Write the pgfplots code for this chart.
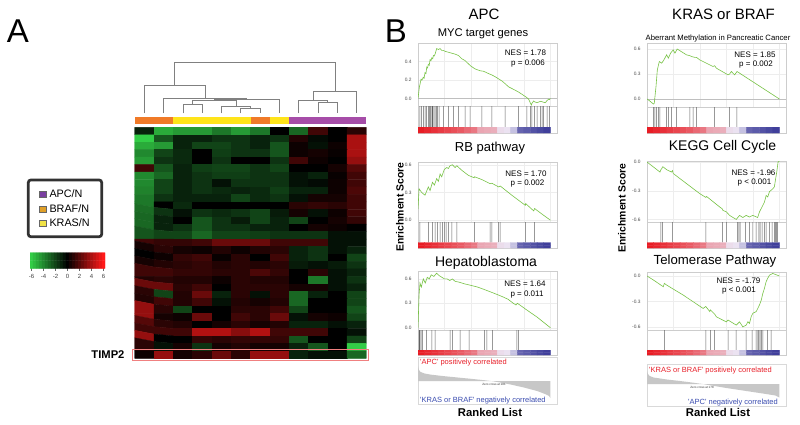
\documentclass[border=0pt]{standalone}
\usepackage{fontspec}
\setmainfont{Liberation Sans}
\usepackage{pgfplots}
\usepackage{pgfplotstable}
\pgfplotsset{compat=1.18}

\definecolor{cOr}{RGB}{240,122,40}
\definecolor{cYe}{RGB}{255,228,26}
\definecolor{cPu}{RGB}{166,77,168}
\definecolor{lPu}{RGB}{122,63,160}
\definecolor{lOr}{RGB}{224,160,40}
\definecolor{lYe}{RGB}{240,226,70}
\definecolor{esG}{RGB}{120,195,70}
\definecolor{posR}{RGB}{232,32,42}
\definecolor{negB}{RGB}{58,76,176}
\definecolor{frm}{RGB}{205,205,205}
\definecolor{boxC}{RGB}{50,50,50}
\definecolor{dendC}{RGB}{128,128,128}
\definecolor{timpR}{RGB}{240,128,128}

% heatmap values (31 rows x 12 columns, row by row)
\pgfplotstableread[row sep=\\]{c\\
-1\\ -5\\ -4.5\\ -4.5\\ -3.5\\ -4.5\\ -3.5\\ 0\\ -3\\ 1.5\\ 0\\ 1\\
-6\\ -2.5\\ -1\\ -1\\ -1.5\\ -1.5\\ -1\\ -1.5\\ 0.8\\ -0.3\\ 0\\ 4\\
-5\\ -4.5\\ -1\\ -2\\ -2\\ -1.5\\ -1\\ -2.5\\ 0.3\\ -0.5\\ 0.3\\ 4\\
-4\\ -2\\ -1.2\\ 0\\ -1.8\\ -1.5\\ -1.5\\ -2.5\\ 0.3\\ 0.5\\ 0.2\\ 4\\
-4.5\\ -1.5\\ -1.2\\ 0\\ -1.5\\ 0\\ 0\\ -1.5\\ 1.5\\ 0.3\\ 0\\ 3.5\\
1.5\\ -2.5\\ -1\\ -1.8\\ -2\\ -2\\ -1.5\\ -2\\ 0\\ 0\\ 0.5\\ 2\\
-4\\ -3\\ -1\\ -1.5\\ -1.8\\ -1.8\\ -1.5\\ -1.5\\ -0.5\\ -1\\ 0.2\\ 1.5\\
-4\\ -2\\ -1\\ -1.5\\ -0.5\\ -1.5\\ -1.5\\ -1.5\\ -0.5\\ -0.3\\ 0.3\\ 1.5\\
-3.8\\ -2\\ -1\\ -1.5\\ -1.2\\ -1\\ -1.2\\ -1.8\\ -1\\ -1\\ 0.3\\ 1.8\\
-3.5\\ -1.5\\ -1\\ -1\\ -1\\ -2\\ -1.2\\ -1.5\\ -0.5\\ 0.5\\ 0.5\\ 1.5\\
-3.5\\ 0\\ -1.2\\ 0\\ 0\\ 0\\ 0\\ 0\\ 1\\ 1.2\\ 1\\ 1.5\\
-3.2\\ -1.5\\ -0.5\\ -1.5\\ -1.2\\ -1.5\\ -2\\ -0.8\\ 0.5\\ -0.5\\ 0.3\\ 1.5\\
-3\\ -1\\ 0\\ -2.5\\ -1.5\\ -0.8\\ -2\\ -1\\ -2\\ 0\\ 0.5\\ 1.2\\
-3\\ -1\\ -1.5\\ -2.5\\ -1.5\\ -1.5\\ -1\\ -1\\ 0\\ 0.5\\ 0.3\\ 0\\
-2.5\\ -2\\ -2\\ -3\\ -2\\ -2\\ -1.8\\ -1.5\\ -1.5\\ -1.5\\ -0.5\\ -0.5\\
1.5\\ 1.2\\ 1.2\\ 1.5\\ 2.5\\ 2.5\\ 2.5\\ 1.5\\ 1.5\\ 1.5\\ -0.5\\ -0.5\\
0.5\\ 1\\ 0.5\\ 0.3\\ 0.8\\ 0.3\\ 0.8\\ 1\\ -1\\ -1.5\\ -0.5\\ -1\\
0\\ 0.3\\ 1.2\\ 1.5\\ 0.2\\ 1\\ 0\\ 1.5\\ -1\\ -1.5\\ 0\\ -2\\
0.5\\ 0.8\\ 1\\ 1.2\\ 0.8\\ 1\\ 0.8\\ 1\\ -0.8\\ -0.5\\ -0.8\\ -1.5\\
1.5\\ 1.5\\ 1.2\\ 1.2\\ 1\\ 1\\ 1.8\\ 1.2\\ 0\\ 1\\ -0.5\\ -1\\
0.8\\ 1\\ 0.8\\ 0.8\\ 0.3\\ 1\\ 0.8\\ 0.8\\ 0\\ -3.5\\ -0.5\\ -1.5\\
2.5\\ 2.5\\ 1\\ 1.5\\ 0\\ 1\\ 1\\ 1\\ 0.5\\ 0.5\\ -0.5\\ -1\\
1\\ -2\\ 0.8\\ 2.5\\ -1\\ 1\\ -0.5\\ 1\\ -3\\ -1\\ 0\\ -2\\
0.8\\ 1.5\\ 0.8\\ 1.5\\ -0.5\\ 0.8\\ 0.5\\ 0.8\\ -3\\ 0\\ 0\\ -2\\
3.5\\ 1\\ -2\\ 0\\ 0\\ 1\\ 1\\ 1.5\\ -2\\ 0\\ 0\\ -2.5\\
3.5\\ 0.5\\ 0.3\\ 2.5\\ 0\\ 1.5\\ 1\\ 2.5\\ -0.5\\ 0.5\\ 0.3\\ -2\\
2\\ 1\\ 0.8\\ 0\\ 0.5\\ 1\\ 0.5\\ 0.8\\ -1\\ -1\\ -0.5\\ -1\\
1.5\\ 1.5\\ 1.5\\ 4.2\\ 4.2\\ 3.2\\ 4.2\\ 1.5\\ 1.5\\ 1.5\\ 0\\ -0.5\\
3.5\\ 0\\ 0\\ 1.2\\ 1\\ 1.2\\ 1.2\\ 1.2\\ -2.5\\ 0\\ 0\\ -2\\
1\\ -0.5\\ 0.5\\ -1.5\\ 0.5\\ 0.8\\ 0.5\\ 0.5\\ -1\\ -2.5\\ 0\\ -6\\
0.3\\ 3.5\\ 0.5\\ 1\\ 2.5\\ 1\\ 3.5\\ 3.5\\ -1\\ -0.5\\ -0.5\\ -3\\
}\heat
\pgfplotstablecreatecol[expr={mod(\pgfplotstablerow,12)}]{x}\heat
\pgfplotstablecreatecol[expr={-floor(\pgfplotstablerow/12)}]{y}\heat

% ranked-list colour bar (20 cells, two identical rows)
\pgfplotstableread[row sep=\\]{c\\
1\\ 0.95\\ 0.9\\ 0.85\\ 0.8\\ 0.75\\ 0.7\\ 0.62\\ 0.55\\ 0.32\\ 0.3\\ 0.28\\ 0.05\\ 0.02\\ -0.2\\ -0.7\\ -0.75\\ -0.8\\ -0.85\\ -0.9\\
1\\ 0.95\\ 0.9\\ 0.85\\ 0.8\\ 0.75\\ 0.7\\ 0.62\\ 0.55\\ 0.32\\ 0.3\\ 0.28\\ 0.05\\ 0.02\\ -0.2\\ -0.7\\ -0.75\\ -0.8\\ -0.85\\ -0.9\\
}\rankbar
\pgfplotstablecreatecol[expr={mod(\pgfplotstablerow,20)*5+2.5}]{x}\rankbar
\pgfplotstablecreatecol[expr={floor(\pgfplotstablerow/20)}]{y}\rankbar

% colour scale of the heatmap (-6 .. 6 step 0.5, two identical rows)
\pgfplotstableread[row sep=\\]{c\\
-6\\ -5.5\\ -5\\ -4.5\\ -4\\ -3.5\\ -3\\ -2.5\\ -2\\ -1.5\\ -1\\ -0.5\\ 0\\ 0.5\\ 1\\ 1.5\\ 2\\ 2.5\\ 3\\ 3.5\\ 4\\ 4.5\\ 5\\ 5.5\\ 6\\
-6\\ -5.5\\ -5\\ -4.5\\ -4\\ -3.5\\ -3\\ -2.5\\ -2\\ -1.5\\ -1\\ -0.5\\ 0\\ 0.5\\ 1\\ 1.5\\ 2\\ 2.5\\ 3\\ 3.5\\ 4\\ 4.5\\ 5\\ 5.5\\ 6\\
}\scaletab
\pgfplotstablecreatecol[expr={mod(\pgfplotstablerow,25)*0.5-6}]{x}\scaletab
\pgfplotstablecreatecol[expr={floor(\pgfplotstablerow/25)}]{y}\scaletab

\pgfplotsset{
  colormap={hm}{rgb255=(50,205,70) rgb255=(0,0,0) rgb255=(255,25,25)},
  colormap={rb}{rgb255=(45,45,145) rgb255=(235,230,245) rgb255=(232,28,36)},
  base/.style={scale only axis, anchor=north west, /pgf/number format/assume math mode=true},
  es/.style={base, width=139pt, xmin=0, xmax=105,
     axis line style={draw=frm, line width=0.5pt},
     xtick={0,20,...,100}, xticklabels={}, major tick length=0pt,
     grid=major, grid style={draw=black!7, line width=0.3pt},
     yticklabel style={font=\fontsize{4.8}{5}\selectfont, text=black!70, xshift=-3pt,
        /pgf/number format/fixed, /pgf/number format/fixed zerofill, /pgf/number format/precision=1}},
  hits/.style={base, width=139pt, xmin=0, xmax=105, ymax=1,
     axis line style={draw=frm, line width=0.5pt}, xtick=\empty, ytick=\empty},
  rbar/.style={base, width=139pt, xmin=0, xmax=105, ymin=-0.5, ymax=1.5, hide axis,
     colormap name=rb, point meta min=-1, point meta max=1},
  rl/.style={base, width=139pt, xmin=0, xmax=105,
     axis line style={draw=black!15, line width=0.4pt}, xtick=\empty, ytick=\empty},
  curve/.style={color=esG, line width=0.6pt, mark=none},
  hit/.style={ybar, bar width=0.5pt, fill=black!62, draw=none},
  dend/.style={color=dendC, line width=0.8pt, mark=none},
}

\newcommand{\rbplot}{\addplot[matrix plot*, mesh/cols=20, point meta=explicit]
   table[x=x, y=y, meta=c] {\rankbar};}

\begin{document}
\begin{tikzpicture}
\path[use as bounding box, fill=white] (0pt,0pt) rectangle (800pt,-424pt);

% ---------------- Panel A ----------------
\node[anchor=base, font=\fontsize{33}{36}\selectfont] at (17.8pt,-42.7pt) {A};

% dendrogram
\begin{axis}[base, at={(134.7pt,-62.3pt)}, width=231.6pt, height=51pt,
  xmin=-0.5, xmax=11.5, ymin=0, ymax=51, hide axis, clip=false]
\addplot[dend] coordinates {(2,0) (2,9.3) (3,9.3) (3,0)};
\addplot[dend] coordinates {(5,0) (5,5) (6,5) (6,0)};
\addplot[dend] coordinates {(4,0) (4,7.3) (5.5,7.3) (5.5,5)};
\addplot[dend] coordinates {(2.5,9.3) (2.5,12.6) (4.75,12.6) (4.75,7.3)};
\addplot[dend] coordinates {(3.625,12.6) (3.625,14.3) (7,14.3) (7,0)};
\addplot[dend] coordinates {(1,0) (1,15) (5.3125,15) (5.3125,14.3)};
\addplot[dend] coordinates {(0,0) (0,28.3) (3.156,28.3) (3.156,15)};
\addplot[dend] coordinates {(9,0) (9,11) (10,11) (10,0)};
\addplot[dend] coordinates {(8,0) (8,12.6) (9.5,12.6) (9.5,11)};
\addplot[dend] coordinates {(8.75,12.6) (8.75,21.6) (11,21.6) (11,0)};
\addplot[dend] coordinates {(1.578,28.3) (1.578,51) (9.875,51) (9.875,21.6)};
\end{axis}

% annotation bar
\begin{axis}[base, at={(134.7pt,-117pt)}, width=231.6pt, height=6.5pt,
  xmin=-0.5, xmax=11.5, ymin=0, ymax=1, hide axis]
\addplot[draw=none, fill=cOr] coordinates {(-0.5,1) (1.5,1)} \closedcycle;
\addplot[draw=none, fill=cYe] coordinates {(1.5,1) (5.5,1)} \closedcycle;
\addplot[draw=none, fill=cOr] coordinates {(5.5,1) (6.5,1)} \closedcycle;
\addplot[draw=none, fill=cYe] coordinates {(6.5,1) (7.5,1)} \closedcycle;
\addplot[draw=none, fill=cPu] coordinates {(7.5,1) (11.5,1)} \closedcycle;
\end{axis}

% heatmap
\begin{axis}[base, at={(134.7pt,-127.3pt)}, width=231.6pt, height=231pt,
  xmin=-0.5, xmax=11.5, ymin=-30.5, ymax=0.5, hide axis,
  colormap name=hm, point meta min=-6, point meta max=6]
\addplot[matrix plot*, mesh/cols=12, point meta=explicit] table[x=x, y=y, meta=c] {\heat};
\end{axis}
\draw[timpR, line width=0.8pt] (132.7pt,-349.5pt) rectangle (368.3pt,-360pt);
\node[anchor=base east, font=\bfseries\fontsize{11.2}{13}\selectfont] at (128pt,-358.5pt) {TIMP2};

% legend box
\draw[boxC, line width=2.7pt, rounded corners=2.5pt] (28.3pt,-180pt) rectangle (101.7pt,-236.7pt);
\filldraw[fill=lPu, draw=black!60, line width=0.3pt] (39.3pt,-190.7pt) rectangle (46pt,-197pt);
\filldraw[fill=lOr, draw=black!60, line width=0.3pt] (39.3pt,-205.7pt) rectangle (46pt,-212pt);
\filldraw[fill=lYe, draw=black!60, line width=0.3pt] (39.3pt,-220pt) rectangle (46pt,-226.3pt);
\node[anchor=base west, inner sep=0pt, font=\fontsize{10.8}{12}\selectfont] at (49.3pt,-197.3pt) {APC/N};
\node[anchor=base west, inner sep=0pt, font=\fontsize{10.8}{12}\selectfont] at (49.3pt,-212.3pt) {BRAF/N};
\node[anchor=base west, inner sep=0pt, font=\fontsize{10.8}{12}\selectfont] at (49.3pt,-226.7pt) {KRAS/N};

% colour scale
\begin{axis}[base, at={(30pt,-252.7pt)}, width=75pt, height=15.6pt,
  xmin=-6.25, xmax=6.25, ymin=-0.5, ymax=1.5,
  axis line style={draw=none}, ytick=\empty, xtick={-6,-4,...,6},
  xtick pos=bottom, tick align=outside, major tick length=2.5pt,
  xtick style={draw=black!60, line width=0.4pt},
  xticklabel style={font=\fontsize{6}{7}\selectfont, text=black!75},
  colormap name=hm, point meta min=-6, point meta max=6]
\addplot[matrix plot*, mesh/cols=25, point meta=explicit] table[x=x, y=y, meta=c] {\scaletab};
\end{axis}

% ---------------- Panel B ----------------
\node[anchor=base, font=\fontsize{33}{36}\selectfont] at (396pt,-42.7pt) {B};
\node[anchor=base, font=\fontsize{15}{17}\selectfont] at (484pt,-19pt) {APC};
\node[anchor=base, font=\fontsize{15}{17}\selectfont] at (723.5pt,-19.3pt) {KRAS or BRAF};

\node[anchor=base, font=\fontsize{11.2}{13}\selectfont] at (483pt,-36.5pt) {MYC target genes};
\node[anchor=base, font=\fontsize{13}{15}\selectfont] at (490pt,-151pt) {RB pathway};
\node[anchor=base, font=\fontsize{14}{16}\selectfont] at (486pt,-266pt) {Hepatoblastoma};
\node[anchor=base, font=\fontsize{7.7}{9}\selectfont] at (718pt,-40.7pt) {Aberrant Methylation in Pancreatic Cancer};
\node[anchor=base, font=\fontsize{14}{16}\selectfont] at (722.5pt,-150pt) {KEGG Cell Cycle};
\node[anchor=base, font=\fontsize{13.2}{15}\selectfont] at (715pt,-264pt) {Telomerase Pathway};

\node[rotate=90, font=\bfseries\fontsize{10.4}{12}\selectfont] at (400pt,-207pt) {Enrichment Score};
\node[rotate=90, font=\bfseries\fontsize{10.4}{12}\selectfont] at (622pt,-208pt) {Enrichment Score};
\node[anchor=base, font=\bfseries\fontsize{11.3}{13}\selectfont] at (490pt,-416.7pt) {Ranked List};
\node[anchor=base, font=\bfseries\fontsize{11.3}{13}\selectfont] at (718pt,-416.7pt) {Ranked List};

% ---- L1: MYC target genes ----
\begin{axis}[es, at={(418pt,-43pt)}, height=63pt, ymin=-0.08, ymax=0.6, ytick={0,0.2,0.4}]
\addplot[black!25, line width=0.4pt] coordinates {(0,0) (105,0)};
\addplot[curve] coordinates {(0,0) (1,0.12) (2.3,0.21) (3,0.2) (4,0.23) (4.6,0.22) (5.3,0.28) (6,0.27) (6.6,0.34) (7.2,0.33) (7.8,0.37) (8.5,0.36) (9.1,0.42) (9.8,0.41) (10.4,0.44) (11.1,0.43) (11.6,0.465) (12.3,0.46) (12.9,0.48) (14.1,0.54) (15.4,0.53) (16.7,0.54) (17.9,0.52) (19.2,0.52) (20.5,0.51) (23,0.50) (25.5,0.49) (28,0.48) (30.6,0.465) (33.1,0.43) (35.6,0.41) (38.1,0.375) (40,0.35) (43.2,0.32) (47,0.30) (49.5,0.295) (53.3,0.27) (55.8,0.255) (58.3,0.236) (63.4,0.19) (65.9,0.16) (68.4,0.127) (73.5,0.09) (76,0.07) (78.5,0.047) (82.3,0.01) (83.6,-0.007) (85.6,-0.07) (86.1,-0.05) (87.4,-0.025) (88.1,-0.035) (89.9,-0.044) (92.4,-0.03) (93.7,-0.033) (94.9,-0.04) (96.2,-0.044) (97.5,-0.02) (98.7,-0.007) (99.2,-0.01) (100,0)};
\end{axis}
\begin{axis}[hits, at={(418pt,-106pt)}, height=27pt, ymin=-0.3]
\addplot[hit] coordinates {(1.5,1) (2.8,1) (4.0,1) (5.3,1) (6.6,1) (7.8,1) (8.6,1) (9.6,1) (10.4,1) (11.1,1) (11.9,1) (12.9,1) (13.9,1) (14.9,1) (15.9,1) (19.2,1) (23,1) (26.8,1) (30.6,1) (35.6,1) (39.4,1) (48.2,1) (55.8,1) (65.9,1) (76,1) (82.3,1) (84.8,1) (86.1,1) (88.1,1) (89.9,1) (92.4,1) (93.7,1) (94.9,1) (97.5,1) (99.2,1)};
\end{axis}
\begin{axis}[rbar, at={(418pt,-127pt)}, height=6pt] \rbplot \end{axis}
\node[anchor=base, font=\fontsize{8}{9}\selectfont] at (525.5pt,-55pt) {NES = 1.78};
\node[anchor=base, font=\fontsize{8}{9}\selectfont] at (528pt,-65pt) {p = 0.006};

% ---- L2: RB pathway ----
\begin{axis}[es, at={(418pt,-162pt)}, height=60pt, ymin=-0.02, ymax=0.63, ytick={0,0.3,0.6}]
\addplot[curve] coordinates {(0,0.12) (0.8,0.34) (2.8,0.30) (5.3,0.27) (7.8,0.36) (9.1,0.32) (10.9,0.41) (12.4,0.38) (14.1,0.45) (15.4,0.42) (16.7,0.50) (17.9,0.47) (19.9,0.55) (21.7,0.57) (23,0.56) (24.2,0.59) (26,0.60) (28,0.57) (29.3,0.59) (33.1,0.54) (38.1,0.485) (42.4,0.46) (42.7,0.47) (48.2,0.44) (54.5,0.395) (55.8,0.40) (60.9,0.36) (62.1,0.37) (70.9,0.27) (81.1,0.16) (81.3,0.18) (87.4,0.10) (88.1,0.126) (93.7,0.065) (100,0)};
\end{axis}
\begin{axis}[hits, at={(418pt,-222pt)}, height=26pt, ymin=-0.27]
\addplot[hit] coordinates {(1.5,1) (7.8,1) (10.9,1) (12.9,1) (14.9,1) (16.7,1) (18.4,1) (19.9,1) (21.2,1) (23,1) (25.5,1) (29.3,1) (42.7,1) (54.5,1) (55.8,1) (60.9,1) (62.1,1) (81.1,1) (88.1,1)};
\end{axis}
\begin{axis}[rbar, at={(418pt,-242.5pt)}, height=5.5pt] \rbplot \end{axis}
\node[anchor=base, font=\fontsize{8}{9}\selectfont] at (526pt,-176pt) {NES = 1.70};
\node[anchor=base, font=\fontsize{8}{9}\selectfont] at (527.5pt,-185pt) {p = 0.002};

% ---- L3: Hepatoblastoma ----
\begin{axis}[es, at={(418pt,-271pt)}, height=59pt, ymin=-0.028, ymax=0.697, ytick={0,0.3,0.6}]
\addplot[curve] coordinates {(0,0) (0.8,0.4) (1.5,0.55) (2.5,0.5) (4,0.6) (5.5,0.55) (7,0.62) (8.5,0.6) (10,0.65) (12,0.63) (14,0.67) (16,0.64) (18,0.62) (20,0.6) (22,0.6) (24,0.58) (26,0.6) (28,0.57) (31,0.56) (35,0.54) (40,0.52) (45,0.5) (50,0.47) (58,0.42) (64,0.38) (68,0.35) (72,0.3) (74,0.28) (75,0.3) (76,0.29) (82,0.22) (90,0.13) (100,0)};
\end{axis}
\begin{axis}[hits, at={(418pt,-330pt)}, height=25pt, ymin=-0.25]
\addplot[hit] coordinates {(0.8,1) (1.5,1) (2.3,1) (3.3,1) (6.6,1) (10.4,1) (12.9,1) (24.2,1) (26,1) (31.8,1) (38.6,1) (50.2,1) (52,1) (56.3,1) (74.7,1) (76,1)};
\end{axis}
\begin{axis}[rbar, at={(418pt,-350pt)}, height=5pt] \rbplot \end{axis}
\node[anchor=base, font=\fontsize{8}{9}\selectfont] at (525pt,-286pt) {NES = 1.64};
\node[anchor=base, font=\fontsize{8}{9}\selectfont] at (527pt,-296pt) {p = 0.011};

% ---- L ranked list ----
\begin{axis}[rl, at={(418pt,-357pt)}, height=47pt, ymin=-23, ymax=24]
\addplot[fill=black!22, draw=none] coordinates {(0,15) (0.7,11) (2,9) (5,7.5) (10,6.3) (20,4.8) (30,3.5) (40,2.2) (50,0.8) (55,0) (60,-1) (70,-3.5) (80,-6.5) (90,-10) (96,-13) (99,-15) (100,-17)} \closedcycle;
\end{axis}
\node[anchor=base west, inner sep=0pt, text=posR, font=\fontsize{7.5}{9}\selectfont] at (420pt,-364.5pt) {\textquotesingle APC\textquotesingle\ positively correlated};
\node[anchor=base west, inner sep=0pt, text=negB, font=\fontsize{7.5}{9}\selectfont] at (420pt,-402pt) {\textquotesingle KRAS or BRAF\textquotesingle\ negatively correlated};
\node[font=\fontsize{3}{3.5}\selectfont, text=black!80] at (494pt,-384pt) {Zero cross at 181};

% ---- R1: Aberrant Methylation ----
\begin{axis}[es, at={(647pt,-43pt)}, height=64pt, ymin=-0.096, ymax=0.672, ytick={0,0.3,0.6}]
\addplot[black!25, line width=0.4pt] coordinates {(0,0) (105,0)};
\addplot[curve] coordinates {(0,0) (1,-0.01) (4.8,-0.06) (5.5,-0.05) (6.8,0.15) (7.8,0.35) (9.3,0.45) (11.1,0.43) (12.8,0.47) (14.8,0.53) (16.1,0.49) (17.8,0.55) (19.8,0.59) (21.1,0.55) (22.8,0.60) (24.8,0.58) (29.8,0.53) (32.3,0.52) (33.6,0.51) (36.1,0.50) (37.3,0.50) (39.8,0.47) (49.9,0.39) (51.1,0.40) (52.4,0.37) (61.2,0.29) (62.4,0.30) (63.7,0.33) (66.2,0.29) (68,0.33) (100,0)};
\end{axis}
\begin{axis}[hits, at={(647pt,-107pt)}, height=26pt, ymin=-0.3]
\addplot[hit] coordinates {(4.8,1) (6.0,1) (7.3,1) (8.5,1) (9.8,1) (14.8,1) (16.1,1) (18.5,1) (22.4,1) (32.3,1) (34.8,1) (37.3,1) (51.1,1) (62.4,1) (67.9,1)};
\end{axis}
\begin{axis}[rbar, at={(647pt,-127pt)}, height=6pt] \rbplot \end{axis}
\node[anchor=base, font=\fontsize{8}{9}\selectfont] at (755pt,-57.3pt) {NES = 1.85};
\node[anchor=base, font=\fontsize{8}{9}\selectfont] at (756pt,-66.5pt) {p = 0.002};

% ---- R2: KEGG Cell Cycle ----
\begin{axis}[es, at={(647pt,-161pt)}, height=61pt, ymin=-0.627, ymax=0.0105, ytick={-0.6,-0.3,0}]
\addplot[curve] coordinates {(0,0) (9.8,-0.105) (10.5,-0.08) (11.1,-0.07) (11.8,-0.05) (12.3,-0.052) (14.8,-0.08) (18.5,-0.105) (19.3,-0.09) (19.8,-0.12) (39.8,-0.33) (44.4,-0.37) (45,-0.36) (54.9,-0.47) (56.9,-0.49) (57.4,-0.506) (59.9,-0.52) (62.4,-0.558) (67.4,-0.6) (69.9,-0.558) (72.4,-0.58) (74.9,-0.558) (77.4,-0.575) (79.9,-0.558) (83.6,-0.58) (85,-0.52) (87.5,-0.453) (88.7,-0.42) (90,-0.35) (91.2,-0.366) (92.5,-0.31) (95,-0.28) (96.2,-0.26) (97,-0.19) (98,-0.105) (99,0) (100,0.01)};
\end{axis}
\begin{axis}[hits, at={(647pt,-222pt)}, height=26pt, ymin=-0.27]
\addplot[hit] coordinates {(10.5,1) (11.8,1) (19.3,1) (44.4,1) (56.9,1) (59.9,1) (68.2,1) (69.4,1) (70.4,1) (74.4,1) (77.4,1) (80,1) (82.5,1) (84.5,1) (85.5,1) (87,1) (88.7,1) (90,1) (92.5,1) (94.5,1) (96.2,1) (97,1) (98,1) (98.7,1)};
\end{axis}
\begin{axis}[rbar, at={(647pt,-242.5pt)}, height=5.5pt] \rbplot \end{axis}
\node[anchor=base, font=\fontsize{8}{9}\selectfont] at (753.5pt,-175pt) {NES = -1.96};
\node[anchor=base, font=\fontsize{8}{9}\selectfont] at (754.5pt,-184.5pt) {p < 0.001};

% ---- R3: Telomerase Pathway ----
\begin{axis}[es, at={(647pt,-272pt)}, height=58pt, ymin=-0.638, ymax=0.047, ytick={-0.6,-0.3,0}]
\addplot[curve] coordinates {(0,0) (4.8,-0.047) (12.3,-0.127) (13.1,-0.087) (14.8,-0.107) (27.3,-0.225) (42.4,-0.383) (44.4,-0.36) (47.4,-0.42) (47.9,-0.40) (51.1,-0.45) (52.4,-0.482) (59.9,-0.542) (61.2,-0.52) (67.4,-0.58) (69.9,-0.542) (72.4,-0.601) (74.9,-0.58) (76.2,-0.54) (77.4,-0.56) (78.7,-0.48) (80,-0.44) (82.5,-0.42) (83.8,-0.38) (85,-0.34) (86.3,-0.285) (87.5,-0.205) (88.7,-0.146) (90,-0.067) (91.2,-0.027) (92.5,0.01) (95,0.03) (100,0)};
\end{axis}
\begin{axis}[hits, at={(647pt,-330pt)}, height=25pt, ymin=-0.25]
\addplot[hit] coordinates {(13.1,1) (44.4,1) (47.9,1) (51.1,1) (61.2,1) (67.4,1) (74.9,1) (79.4,1) (82.5,1) (83.8,1) (84.5,1) (85.5,1) (86.3,1) (87.5,1) (91.2,1) (93.8,1)};
\end{axis}
\begin{axis}[rbar, at={(647pt,-350pt)}, height=5pt] \rbplot \end{axis}
\node[anchor=base, font=\fontsize{8}{9}\selectfont] at (738.5pt,-283pt) {NES = -1.79};
\node[anchor=base, font=\fontsize{8}{9}\selectfont] at (739pt,-292.5pt) {p < 0.001};

% ---- R ranked list ----
\begin{axis}[rl, at={(647pt,-364pt)}, height=42pt, ymin=-22, ymax=20]
\addplot[fill=black!22, draw=none] coordinates {(0,13) (0.7,10) (2,8) (5,6.5) (15,4.5) (25,3) (35,1.3) (42,0) (50,-1.8) (60,-4) (70,-6) (80,-8) (90,-10) (97,-11.5) (100,-13.5)} \closedcycle;
\end{axis}
\node[anchor=base west, inner sep=0pt, text=posR, font=\fontsize{7.5}{9}\selectfont] at (649pt,-372pt) {\textquotesingle KRAS or BRAF\textquotesingle\ positively correlated};
\node[anchor=base east, inner sep=0pt, text=negB, font=\fontsize{7.5}{9}\selectfont] at (778pt,-404pt) {\textquotesingle APC\textquotesingle\ negatively correlated};
\node[font=\fontsize{3}{3.5}\selectfont, text=black!80] at (702pt,-387pt) {Zero cross at 178};

\end{tikzpicture}
\end{document}
